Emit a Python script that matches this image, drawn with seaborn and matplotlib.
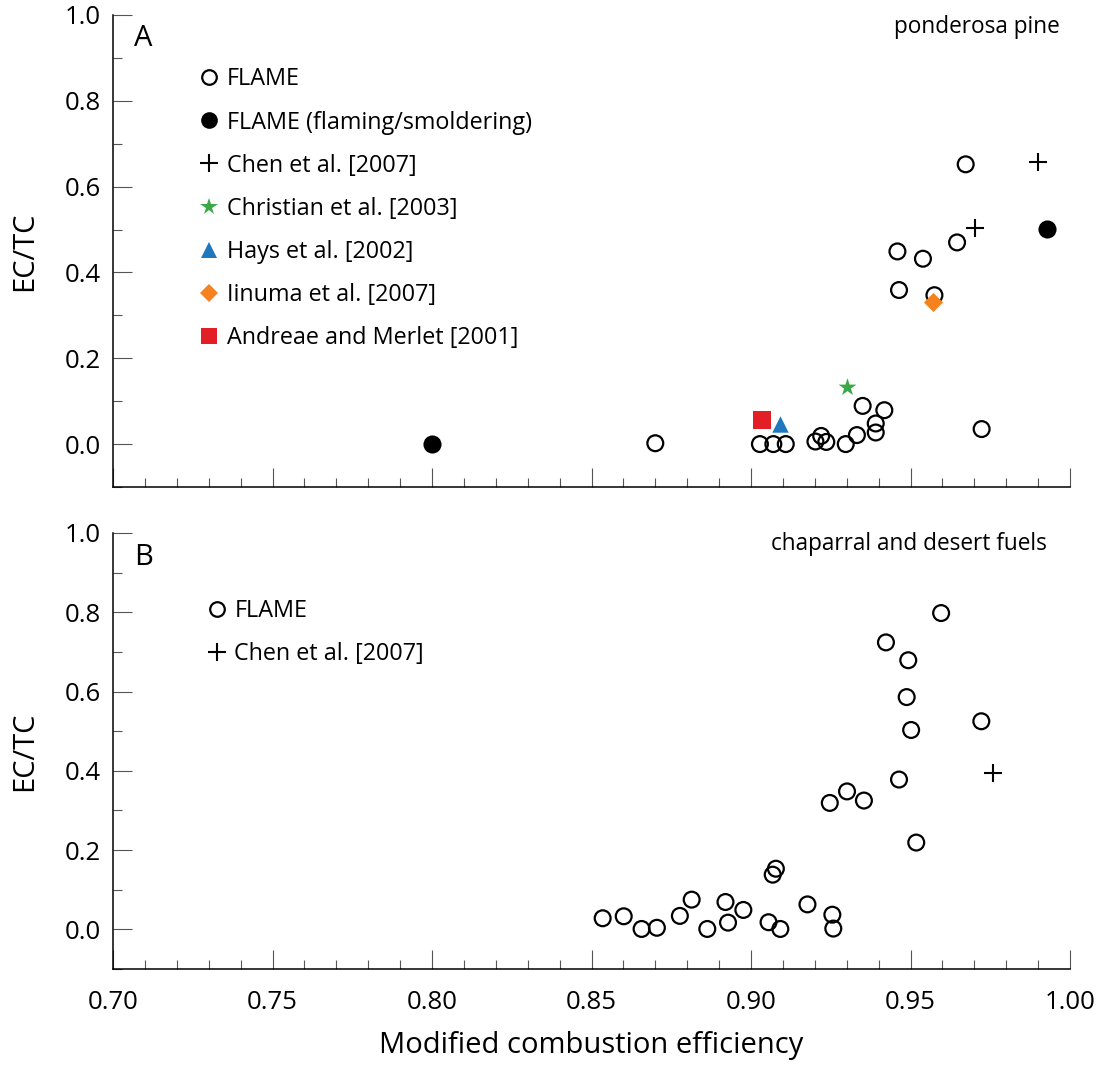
import matplotlib
matplotlib.use("Agg")
import matplotlib.pyplot as plt
from matplotlib.ticker import MultipleLocator, FormatStrFormatter
from matplotlib.lines import Line2D
import seaborn as sns

sns.set_theme(style="ticks")
plt.rcParams["font.family"] = ["Open Sans", "DejaVu Sans"]
plt.rcParams.update({"text.color": "black", "axes.labelcolor": "black",
                     "xtick.labelcolor": "black", "ytick.labelcolor": "black"})

# ---- panel A: ponderosa pine ----
pine_flame_x = [0.9673, 0.9459, 0.9539, 0.9646, 0.9464, 0.9575, 0.9350, 0.9418, 0.9391, 0.9391,
                0.9332, 0.9297, 0.9236, 0.9220, 0.9202, 0.9723, 0.9028, 0.9070, 0.9109, 0.8700]
pine_flame_y = [0.652, 0.449, 0.432, 0.470, 0.359, 0.347, 0.089, 0.079, 0.048, 0.027,
                0.021, 0.000, 0.005, 0.019, 0.006, 0.035, 0.000, 0.000, 0.000, 0.002]
pine_fs_x = [0.9927, 0.8000]          # flaming / smoldering
pine_fs_y = [0.501, 0.000]
pine_chen_x = [0.9901, 0.9701]
pine_chen_y = [0.657, 0.503]
christian_x, christian_y = [0.9300], [0.133]
hays_x, hays_y = [0.9091], [0.046]
iinuma_x, iinuma_y = [0.9571], [0.332]
andreae_x, andreae_y = [0.9034], [0.057]

# ---- panel B: chaparral and desert fuels ----
chap_flame_x = [0.9596, 0.9423, 0.9493, 0.9488, 0.9502, 0.9722, 0.9464, 0.9301, 0.9247, 0.9354,
                0.9518, 0.9078, 0.9068, 0.8535, 0.8601, 0.8657, 0.8705, 0.8777, 0.8814, 0.8863,
                0.8920, 0.8928, 0.8976, 0.9055, 0.9092, 0.9177, 0.9255, 0.9258]
chap_flame_y = [0.798, 0.724, 0.679, 0.586, 0.503, 0.525, 0.378, 0.348, 0.319, 0.325,
                0.219, 0.153, 0.138, 0.028, 0.033, 0.001, 0.004, 0.034, 0.075, 0.001,
                0.069, 0.017, 0.049, 0.018, 0.001, 0.063, 0.037, 0.002]
chap_chen_x = [0.9760]
chap_chen_y = [0.395]

green, blue, orange, red = "#3aa846", "#1f77bd", "#f5821f", "#e21f26"

W, H = 1099, 1066
fig = plt.figure(figsize=(W / 100, H / 100), dpi=100)
axA = fig.add_axes([113 / W, 1 - 487 / H, 957 / W, 472 / H])
axB = fig.add_axes([113 / W, 1 - 969 / H, 957 / W, 436 / H])

def open_circles(ax, x, y):
    sns.scatterplot(x=x, y=y, ax=ax, marker="o", s=130, facecolors="none",
                    edgecolors="black", linewidth=1.6, zorder=3)

open_circles(axA, pine_flame_x, pine_flame_y)
sns.scatterplot(x=pine_fs_x, y=pine_fs_y, ax=axA, marker="o", s=170, color="black",
                edgecolor="black", linewidth=0, zorder=4)
sns.scatterplot(x=pine_chen_x, y=pine_chen_y, ax=axA, marker="+", s=170, color="black",
                linewidth=1.5, zorder=4)
sns.scatterplot(x=christian_x, y=christian_y, ax=axA, marker="*", s=180, color=green,
                linewidth=0, zorder=4)
sns.scatterplot(x=hays_x, y=hays_y, ax=axA, marker="^", s=140, color=blue,
                linewidth=0, zorder=4)
sns.scatterplot(x=iinuma_x, y=iinuma_y, ax=axA, marker="D", s=95, color=orange,
                linewidth=0, zorder=4)
sns.scatterplot(x=andreae_x, y=andreae_y, ax=axA, marker="s", s=150, color=red,
                linewidth=0, zorder=4)

open_circles(axB, chap_flame_x, chap_flame_y)
sns.scatterplot(x=chap_chen_x, y=chap_chen_y, ax=axB, marker="+", s=170, color="black",
                linewidth=1.5, zorder=4)

for ax in (axA, axB):
    ax.set_xlim(0.70, 1.00)
    ax.set_ylim(-0.1, 1.0)
    sns.despine(ax=ax)
    for s in ("left", "bottom"):
        ax.spines[s].set_linewidth(1.1)
        ax.spines[s].set_color("black")
    ax.xaxis.set_major_locator(MultipleLocator(0.05))
    ax.xaxis.set_minor_locator(MultipleLocator(0.01))
    ax.yaxis.set_major_locator(MultipleLocator(0.2))
    ax.yaxis.set_minor_locator(MultipleLocator(0.1))
    ax.xaxis.set_major_formatter(FormatStrFormatter("%.2f"))
    ax.yaxis.set_major_formatter(FormatStrFormatter("%.1f"))
    ax.tick_params(which="major", direction="in", length=13.5, width=0.8, labelsize=18.5,
                   color="#555555")
    ax.tick_params(which="minor", direction="in", length=6.5, width=0.8, color="#555555")
    ax.tick_params(axis="y", pad=9)
    ax.tick_params(axis="x", pad=15)
    ax.set_ylabel("EC/TC", fontsize=21, labelpad=18)

axA.tick_params(axis="x", labelbottom=False)
axB.set_xlabel("Modified combustion efficiency", fontsize=21, labelpad=12)

axA.text(0.032, 0.951, "A", transform=axA.transAxes, fontsize=21, ha="center", va="center")
axB.text(0.032, 0.943, "B", transform=axB.transAxes, fontsize=21, ha="center", va="center")
axA.text(0.9896, 0.962, "ponderosa pine", transform=axA.transAxes, fontsize=16.3,
         ha="right", va="baseline")
axB.text(0.976, 0.961, "chaparral and desert fuels", transform=axB.transAxes, fontsize=16.3,
         ha="right", va="baseline")

def h(marker, ms, fc, ec="none", mew=0):
    return Line2D([], [], ls="none", marker=marker, ms=ms, mfc=fc, mec=ec, mew=mew)

handlesA = [h("o", 10.5, "none", "black", 1.6), h("o", 12, "black"),
            h("+", 13, "black", "black", 1.5), h("*", 13, green), h("^", 12, blue),
            h("D", 9.5, orange), h("s", 11.5, red)]
labelsA = ["FLAME", "FLAME (flaming/smoldering)", "Chen et al. [2007]",
           "Christian et al. [2003]", "Hays et al. [2002]", "Iinuma et al. [2007]",
           "Andreae and Merlet [2001]"]
axA.legend(handlesA, labelsA, loc="upper left", bbox_to_anchor=(0.089, 0.889),
           frameon=False, fontsize=16.8, handlelength=0.95, handletextpad=0.27,
           labelspacing=0.82, borderaxespad=0, borderpad=0)

handlesB = [h("o", 10.5, "none", "black", 1.6), h("+", 13, "black", "black", 1.5)]
labelsB = ["FLAME", "Chen et al. [2007]"]
axB.legend(handlesB, labelsB, loc="upper left", bbox_to_anchor=(0.097, 0.849),
           frameon=False, fontsize=16.8, handlelength=0.95, handletextpad=0.27,
           labelspacing=0.82, borderaxespad=0, borderpad=0)

fig.savefig("out.png", dpi=100)
